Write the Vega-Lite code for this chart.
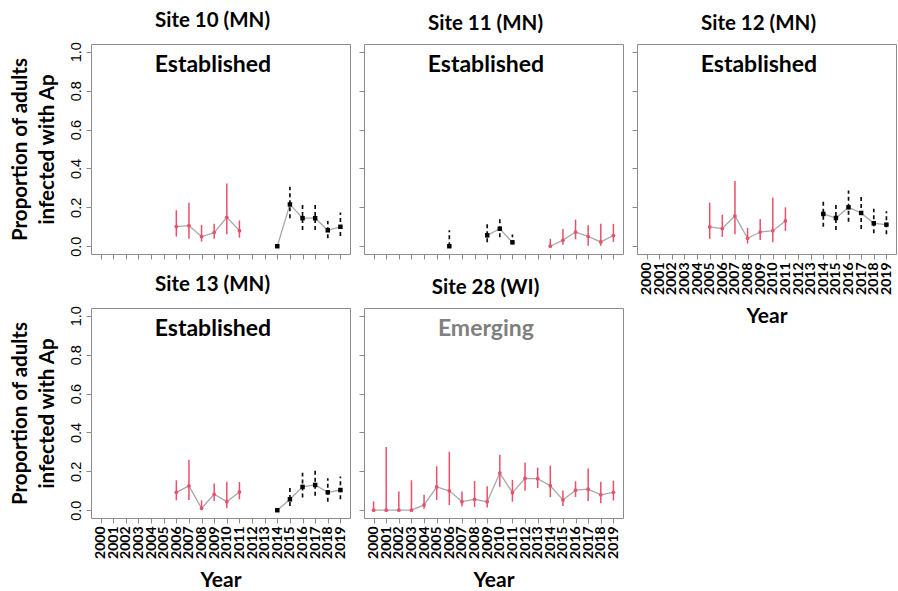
{
  "$schema": "https://vega.github.io/schema/vega-lite/v6.json",
  "background": "white",
  "padding": {"left": 9, "top": 10, "right": 0, "bottom": 0},
  "bounds": "flush",
  "columns": 3,
  "spacing": {"row": 54, "column": 14},
  "datasets": {
    "obs": [
      {"site": 10, "year": 2006, "p": 0.101, "lo": 0.05, "hi": 0.185, "grp": "r", "seg": "a"},
      {"site": 10, "year": 2007, "p": 0.106, "lo": 0.038, "hi": 0.224, "grp": "r", "seg": "a"},
      {"site": 10, "year": 2008, "p": 0.05, "lo": 0.024, "hi": 0.109, "grp": "r", "seg": "a"},
      {"site": 10, "year": 2009, "p": 0.07, "lo": 0.038, "hi": 0.115, "grp": "r", "seg": "a"},
      {"site": 10, "year": 2010, "p": 0.149, "lo": 0.062, "hi": 0.323, "grp": "r", "seg": "a"},
      {"site": 10, "year": 2011, "p": 0.08, "lo": 0.044, "hi": 0.132, "grp": "r", "seg": "a"},
      {"site": 10, "year": 2014, "p": 0.0, "lo": 0.0, "hi": 0.0, "grp": "b", "seg": "b"},
      {"site": 10, "year": 2015, "p": 0.215, "lo": 0.144, "hi": 0.306, "grp": "b", "seg": "b"},
      {"site": 10, "year": 2016, "p": 0.144, "lo": 0.084, "hi": 0.217, "grp": "b", "seg": "b"},
      {"site": 10, "year": 2017, "p": 0.144, "lo": 0.084, "hi": 0.217, "grp": "b", "seg": "b"},
      {"site": 10, "year": 2018, "p": 0.082, "lo": 0.041, "hi": 0.13, "grp": "b", "seg": "b"},
      {"site": 10, "year": 2019, "p": 0.1, "lo": 0.053, "hi": 0.174, "grp": "b", "seg": "b"},
      {"site": 11, "year": 2006, "p": 0.0, "lo": 0.0, "hi": 0.082, "grp": "b", "seg": "b1"},
      {"site": 11, "year": 2009, "p": 0.056, "lo": 0.02, "hi": 0.115, "grp": "b", "seg": "b2"},
      {"site": 11, "year": 2010, "p": 0.09, "lo": 0.046, "hi": 0.14, "grp": "b", "seg": "b2"},
      {"site": 11, "year": 2011, "p": 0.02, "lo": 0.01, "hi": 0.06, "grp": "b", "seg": "b2"},
      {"site": 11, "year": 2014, "p": 0.0, "lo": 0.0, "hi": 0.038, "grp": "r", "seg": "a"},
      {"site": 11, "year": 2015, "p": 0.031, "lo": 0.007, "hi": 0.089, "grp": "r", "seg": "a"},
      {"site": 11, "year": 2016, "p": 0.073, "lo": 0.036, "hi": 0.137, "grp": "r", "seg": "a"},
      {"site": 11, "year": 2017, "p": 0.05, "lo": 0.003, "hi": 0.108, "grp": "r", "seg": "a"},
      {"site": 11, "year": 2018, "p": 0.022, "lo": 0.002, "hi": 0.116, "grp": "r", "seg": "a"},
      {"site": 11, "year": 2019, "p": 0.055, "lo": 0.022, "hi": 0.115, "grp": "r", "seg": "a"},
      {"site": 12, "year": 2005, "p": 0.099, "lo": 0.038, "hi": 0.224, "grp": "r", "seg": "a"},
      {"site": 12, "year": 2006, "p": 0.091, "lo": 0.048, "hi": 0.162, "grp": "r", "seg": "a"},
      {"site": 12, "year": 2007, "p": 0.156, "lo": 0.062, "hi": 0.335, "grp": "r", "seg": "a"},
      {"site": 12, "year": 2008, "p": 0.041, "lo": 0.014, "hi": 0.094, "grp": "r", "seg": "a"},
      {"site": 12, "year": 2009, "p": 0.073, "lo": 0.032, "hi": 0.14, "grp": "r", "seg": "a"},
      {"site": 12, "year": 2010, "p": 0.08, "lo": 0.02, "hi": 0.25, "grp": "r", "seg": "a"},
      {"site": 12, "year": 2011, "p": 0.13, "lo": 0.079, "hi": 0.2, "grp": "r", "seg": "a"},
      {"site": 12, "year": 2014, "p": 0.166, "lo": 0.1, "hi": 0.234, "grp": "b", "seg": "b"},
      {"site": 12, "year": 2015, "p": 0.145, "lo": 0.084, "hi": 0.217, "grp": "b", "seg": "b"},
      {"site": 12, "year": 2016, "p": 0.2, "lo": 0.126, "hi": 0.287, "grp": "b", "seg": "b"},
      {"site": 12, "year": 2017, "p": 0.171, "lo": 0.089, "hi": 0.258, "grp": "b", "seg": "b"},
      {"site": 12, "year": 2018, "p": 0.118, "lo": 0.067, "hi": 0.193, "grp": "b", "seg": "b"},
      {"site": 12, "year": 2019, "p": 0.111, "lo": 0.062, "hi": 0.18, "grp": "b", "seg": "b"},
      {"site": 13, "year": 2006, "p": 0.092, "lo": 0.051, "hi": 0.154, "grp": "r", "seg": "a"},
      {"site": 13, "year": 2007, "p": 0.125, "lo": 0.053, "hi": 0.26, "grp": "r", "seg": "a"},
      {"site": 13, "year": 2008, "p": 0.01, "lo": 0.002, "hi": 0.051, "grp": "r", "seg": "a"},
      {"site": 13, "year": 2009, "p": 0.082, "lo": 0.048, "hi": 0.137, "grp": "r", "seg": "a"},
      {"site": 13, "year": 2010, "p": 0.044, "lo": 0.01, "hi": 0.147, "grp": "r", "seg": "a"},
      {"site": 13, "year": 2011, "p": 0.094, "lo": 0.056, "hi": 0.145, "grp": "r", "seg": "a"},
      {"site": 13, "year": 2014, "p": 0.0, "lo": 0.0, "hi": 0.0, "grp": "b", "seg": "b"},
      {"site": 13, "year": 2015, "p": 0.056, "lo": 0.022, "hi": 0.116, "grp": "b", "seg": "b"},
      {"site": 13, "year": 2016, "p": 0.12, "lo": 0.065, "hi": 0.193, "grp": "b", "seg": "b"},
      {"site": 13, "year": 2017, "p": 0.13, "lo": 0.075, "hi": 0.203, "grp": "b", "seg": "b"},
      {"site": 13, "year": 2018, "p": 0.092, "lo": 0.044, "hi": 0.164, "grp": "b", "seg": "b"},
      {"site": 13, "year": 2019, "p": 0.104, "lo": 0.056, "hi": 0.174, "grp": "b", "seg": "b"},
      {"site": 28, "year": 2000, "p": 0.0, "lo": 0.0, "hi": 0.046, "grp": "r", "seg": "a"},
      {"site": 28, "year": 2001, "p": 0.0, "lo": 0.0, "hi": 0.325, "grp": "r", "seg": "a"},
      {"site": 28, "year": 2002, "p": 0.0, "lo": 0.0, "hi": 0.096, "grp": "r", "seg": "a"},
      {"site": 28, "year": 2003, "p": 0.0, "lo": 0.0, "hi": 0.154, "grp": "r", "seg": "a"},
      {"site": 28, "year": 2004, "p": 0.027, "lo": 0.007, "hi": 0.08, "grp": "r", "seg": "a"},
      {"site": 28, "year": 2005, "p": 0.12, "lo": 0.053, "hi": 0.226, "grp": "r", "seg": "a"},
      {"site": 28, "year": 2006, "p": 0.1, "lo": 0.027, "hi": 0.301, "grp": "r", "seg": "a"},
      {"site": 28, "year": 2007, "p": 0.044, "lo": 0.019, "hi": 0.096, "grp": "r", "seg": "a"},
      {"site": 28, "year": 2008, "p": 0.056, "lo": 0.017, "hi": 0.15, "grp": "r", "seg": "a"},
      {"site": 28, "year": 2009, "p": 0.044, "lo": 0.014, "hi": 0.123, "grp": "r", "seg": "a"},
      {"site": 28, "year": 2010, "p": 0.191, "lo": 0.121, "hi": 0.285, "grp": "r", "seg": "a"},
      {"site": 28, "year": 2011, "p": 0.09, "lo": 0.044, "hi": 0.156, "grp": "r", "seg": "a"},
      {"site": 28, "year": 2012, "p": 0.164, "lo": 0.1, "hi": 0.246, "grp": "r", "seg": "a"},
      {"site": 28, "year": 2013, "p": 0.162, "lo": 0.114, "hi": 0.219, "grp": "r", "seg": "a"},
      {"site": 28, "year": 2014, "p": 0.126, "lo": 0.067, "hi": 0.229, "grp": "r", "seg": "a"},
      {"site": 28, "year": 2015, "p": 0.053, "lo": 0.022, "hi": 0.101, "grp": "r", "seg": "a"},
      {"site": 28, "year": 2016, "p": 0.103, "lo": 0.068, "hi": 0.149, "grp": "r", "seg": "a"},
      {"site": 28, "year": 2017, "p": 0.108, "lo": 0.048, "hi": 0.215, "grp": "r", "seg": "a"},
      {"site": 28, "year": 2018, "p": 0.079, "lo": 0.036, "hi": 0.147, "grp": "r", "seg": "a"},
      {"site": 28, "year": 2019, "p": 0.092, "lo": 0.05, "hi": 0.152, "grp": "r", "seg": "a"}
    ],
    "ann": [
      {"site": 10, "status": "Established"},
      {"site": 11, "status": "Established"},
      {"site": 12, "status": "Established"},
      {"site": 13, "status": "Established"},
      {"site": 28, "status": "Emerging"}
    ]
  },
  "concat": [
    {
      "title": "Site 10 (MN)",
      "width": 259, "height": 210,
      "data": {"name": "obs"},
      "transform": [{"filter": "datum.site == 10"}],
      "layer": [
        {
          "encoding": {
            "x": {"field": "year", "type": "quantitative", "scale": {"domain": [1999.24, 2019.76], "nice": false, "zero": false}, "axis": {"values": [2000,2001,2002,2003,2004,2005,2006,2007,2008,2009,2010,2011,2012,2013,2014,2015,2016,2017,2018,2019], "format": "d", "labels": false, "title": null}},
            "y": {"field": "p", "type": "quantitative", "scale": {"domain": [-0.04, 1.04], "nice": false, "zero": false}, "axis": {"values": [0, 0.2, 0.4, 0.6, 0.8, 1], "format": ".1f", "title": ["Proportion of adults", "infected with Ap"]}}
          },
          "layer": [
            {"mark": {"type": "line", "color": "#A8A8A8", "strokeWidth": 1.3}, "encoding": {"detail": {"field": "seg"}}},
            {"transform": [{"filter": "datum.grp == 'r'"}], "mark": {"type": "rule", "color": "#E8506B", "strokeWidth": 1.5}, "encoding": {"y": {"field": "lo", "type": "quantitative", "scale": {"domain": [-0.04, 1.04], "nice": false, "zero": false}, "axis": {"values": [0, 0.2, 0.4, 0.6, 0.8, 1], "format": ".1f", "title": ["Proportion of adults", "infected with Ap"]}}, "y2": {"field": "hi"}}},
            {"transform": [{"filter": "datum.grp == 'b'"}], "mark": {"type": "rule", "color": "#111111", "strokeWidth": 1.7, "strokeDash": [4, 3]}, "encoding": {"y": {"field": "lo", "type": "quantitative", "scale": {"domain": [-0.04, 1.04], "nice": false, "zero": false}, "axis": {"values": [0, 0.2, 0.4, 0.6, 0.8, 1], "format": ".1f", "title": ["Proportion of adults", "infected with Ap"]}}, "y2": {"field": "hi"}}},
            {"transform": [{"filter": "datum.grp == 'r'"}], "mark": {"type": "point", "shape": "circle", "filled": true, "color": "#E8506B", "size": 14, "opacity": 1}},
            {"transform": [{"filter": "datum.grp == 'b'"}], "mark": {"type": "square", "color": "#000000", "size": 20, "opacity": 1}}
          ]
        },
        {"transform": [{"aggregate": [{"op": "min", "field": "site", "as": "site"}]}, {"lookup": "site", "from": {"data": {"name": "ann"}, "key": "site", "fields": ["status"]}}],
         "mark": {"type": "text", "font": "Lato", "fontSize": 23, "fontWeight": "bold", "align": "center", "baseline": "middle", "color": "#000000"},
         "encoding": {
           "x": {"datum": 2008.9, "type": "quantitative", "scale": {"domain": [1999.24, 2019.76], "nice": false, "zero": false}, "axis": {"values": [2000,2001,2002,2003,2004,2005,2006,2007,2008,2009,2010,2011,2012,2013,2014,2015,2016,2017,2018,2019], "format": "d", "labels": false, "title": null}},
           "y": {"datum": 0.93, "type": "quantitative", "scale": {"domain": [-0.04, 1.04], "nice": false, "zero": false}, "axis": {"values": [0, 0.2, 0.4, 0.6, 0.8, 1], "format": ".1f", "title": ["Proportion of adults", "infected with Ap"]}},
           "text": {"field": "status", "type": "nominal"}
         }}
      ]
    },
    {
      "title": "Site 11 (MN)",
      "width": 259, "height": 210,
      "data": {"name": "obs"},
      "transform": [{"filter": "datum.site == 11"}],
      "layer": [
        {
          "encoding": {
            "x": {"field": "year", "type": "quantitative", "scale": {"domain": [1999.24, 2019.76], "nice": false, "zero": false}, "axis": {"values": [2000,2001,2002,2003,2004,2005,2006,2007,2008,2009,2010,2011,2012,2013,2014,2015,2016,2017,2018,2019], "format": "d", "labels": false, "title": null}},
            "y": {"field": "p", "type": "quantitative", "scale": {"domain": [-0.04, 1.04], "nice": false, "zero": false}, "axis": {"values": [0, 0.2, 0.4, 0.6, 0.8, 1], "format": ".1f", "labels": false, "title": null}}
          },
          "layer": [
            {"mark": {"type": "line", "color": "#A8A8A8", "strokeWidth": 1.3}, "encoding": {"detail": {"field": "seg"}}},
            {"transform": [{"filter": "datum.grp == 'r'"}], "mark": {"type": "rule", "color": "#E8506B", "strokeWidth": 1.5}, "encoding": {"y": {"field": "lo", "type": "quantitative", "scale": {"domain": [-0.04, 1.04], "nice": false, "zero": false}, "axis": {"values": [0, 0.2, 0.4, 0.6, 0.8, 1], "format": ".1f", "labels": false, "title": null}}, "y2": {"field": "hi"}}},
            {"transform": [{"filter": "datum.grp == 'b'"}], "mark": {"type": "rule", "color": "#111111", "strokeWidth": 1.7, "strokeDash": [4, 3]}, "encoding": {"y": {"field": "lo", "type": "quantitative", "scale": {"domain": [-0.04, 1.04], "nice": false, "zero": false}, "axis": {"values": [0, 0.2, 0.4, 0.6, 0.8, 1], "format": ".1f", "labels": false, "title": null}}, "y2": {"field": "hi"}}},
            {"transform": [{"filter": "datum.grp == 'r'"}], "mark": {"type": "point", "shape": "circle", "filled": true, "color": "#E8506B", "size": 14, "opacity": 1}},
            {"transform": [{"filter": "datum.grp == 'b'"}], "mark": {"type": "square", "color": "#000000", "size": 20, "opacity": 1}}
          ]
        },
        {"transform": [{"aggregate": [{"op": "min", "field": "site", "as": "site"}]}, {"lookup": "site", "from": {"data": {"name": "ann"}, "key": "site", "fields": ["status"]}}],
         "mark": {"type": "text", "font": "Lato", "fontSize": 23, "fontWeight": "bold", "align": "center", "baseline": "middle", "color": "#000000"},
         "encoding": {
           "x": {"datum": 2008.9, "type": "quantitative", "scale": {"domain": [1999.24, 2019.76], "nice": false, "zero": false}, "axis": {"values": [2000,2001,2002,2003,2004,2005,2006,2007,2008,2009,2010,2011,2012,2013,2014,2015,2016,2017,2018,2019], "format": "d", "labels": false, "title": null}},
           "y": {"datum": 0.93, "type": "quantitative", "scale": {"domain": [-0.04, 1.04], "nice": false, "zero": false}, "axis": {"values": [0, 0.2, 0.4, 0.6, 0.8, 1], "format": ".1f", "labels": false, "title": null}},
           "text": {"field": "status", "type": "nominal"}
         }}
      ]
    },
    {
      "title": "Site 12 (MN)",
      "width": 259, "height": 210,
      "data": {"name": "obs"},
      "transform": [{"filter": "datum.site == 12"}],
      "layer": [
        {
          "encoding": {
            "x": {"field": "year", "type": "quantitative", "scale": {"domain": [1999.24, 2019.76], "nice": false, "zero": false}, "axis": {"values": [2000,2001,2002,2003,2004,2005,2006,2007,2008,2009,2010,2011,2012,2013,2014,2015,2016,2017,2018,2019], "format": "d", "title": "Year"}},
            "y": {"field": "p", "type": "quantitative", "scale": {"domain": [-0.04, 1.04], "nice": false, "zero": false}, "axis": {"values": [0, 0.2, 0.4, 0.6, 0.8, 1], "format": ".1f", "labels": false, "title": null}}
          },
          "layer": [
            {"mark": {"type": "line", "color": "#A8A8A8", "strokeWidth": 1.3}, "encoding": {"detail": {"field": "seg"}}},
            {"transform": [{"filter": "datum.grp == 'r'"}], "mark": {"type": "rule", "color": "#E8506B", "strokeWidth": 1.5}, "encoding": {"y": {"field": "lo", "type": "quantitative", "scale": {"domain": [-0.04, 1.04], "nice": false, "zero": false}, "axis": {"values": [0, 0.2, 0.4, 0.6, 0.8, 1], "format": ".1f", "labels": false, "title": null}}, "y2": {"field": "hi"}}},
            {"transform": [{"filter": "datum.grp == 'b'"}], "mark": {"type": "rule", "color": "#111111", "strokeWidth": 1.7, "strokeDash": [4, 3]}, "encoding": {"y": {"field": "lo", "type": "quantitative", "scale": {"domain": [-0.04, 1.04], "nice": false, "zero": false}, "axis": {"values": [0, 0.2, 0.4, 0.6, 0.8, 1], "format": ".1f", "labels": false, "title": null}}, "y2": {"field": "hi"}}},
            {"transform": [{"filter": "datum.grp == 'r'"}], "mark": {"type": "point", "shape": "circle", "filled": true, "color": "#E8506B", "size": 14, "opacity": 1}},
            {"transform": [{"filter": "datum.grp == 'b'"}], "mark": {"type": "square", "color": "#000000", "size": 20, "opacity": 1}}
          ]
        },
        {"transform": [{"aggregate": [{"op": "min", "field": "site", "as": "site"}]}, {"lookup": "site", "from": {"data": {"name": "ann"}, "key": "site", "fields": ["status"]}}],
         "mark": {"type": "text", "font": "Lato", "fontSize": 23, "fontWeight": "bold", "align": "center", "baseline": "middle", "color": "#000000"},
         "encoding": {
           "x": {"datum": 2008.9, "type": "quantitative", "scale": {"domain": [1999.24, 2019.76], "nice": false, "zero": false}, "axis": {"values": [2000,2001,2002,2003,2004,2005,2006,2007,2008,2009,2010,2011,2012,2013,2014,2015,2016,2017,2018,2019], "format": "d", "title": "Year"}},
           "y": {"datum": 0.93, "type": "quantitative", "scale": {"domain": [-0.04, 1.04], "nice": false, "zero": false}, "axis": {"values": [0, 0.2, 0.4, 0.6, 0.8, 1], "format": ".1f", "labels": false, "title": null}},
           "text": {"field": "status", "type": "nominal"}
         }}
      ]
    },
    {
      "title": "Site 13 (MN)",
      "width": 259, "height": 210,
      "data": {"name": "obs"},
      "transform": [{"filter": "datum.site == 13"}],
      "layer": [
        {
          "encoding": {
            "x": {"field": "year", "type": "quantitative", "scale": {"domain": [1999.24, 2019.76], "nice": false, "zero": false}, "axis": {"values": [2000,2001,2002,2003,2004,2005,2006,2007,2008,2009,2010,2011,2012,2013,2014,2015,2016,2017,2018,2019], "format": "d", "title": "Year"}},
            "y": {"field": "p", "type": "quantitative", "scale": {"domain": [-0.04, 1.04], "nice": false, "zero": false}, "axis": {"values": [0, 0.2, 0.4, 0.6, 0.8, 1], "format": ".1f", "title": ["Proportion of adults", "infected with Ap"]}}
          },
          "layer": [
            {"mark": {"type": "line", "color": "#A8A8A8", "strokeWidth": 1.3}, "encoding": {"detail": {"field": "seg"}}},
            {"transform": [{"filter": "datum.grp == 'r'"}], "mark": {"type": "rule", "color": "#E8506B", "strokeWidth": 1.5}, "encoding": {"y": {"field": "lo", "type": "quantitative", "scale": {"domain": [-0.04, 1.04], "nice": false, "zero": false}, "axis": {"values": [0, 0.2, 0.4, 0.6, 0.8, 1], "format": ".1f", "title": ["Proportion of adults", "infected with Ap"]}}, "y2": {"field": "hi"}}},
            {"transform": [{"filter": "datum.grp == 'b'"}], "mark": {"type": "rule", "color": "#111111", "strokeWidth": 1.7, "strokeDash": [4, 3]}, "encoding": {"y": {"field": "lo", "type": "quantitative", "scale": {"domain": [-0.04, 1.04], "nice": false, "zero": false}, "axis": {"values": [0, 0.2, 0.4, 0.6, 0.8, 1], "format": ".1f", "title": ["Proportion of adults", "infected with Ap"]}}, "y2": {"field": "hi"}}},
            {"transform": [{"filter": "datum.grp == 'r'"}], "mark": {"type": "point", "shape": "circle", "filled": true, "color": "#E8506B", "size": 14, "opacity": 1}},
            {"transform": [{"filter": "datum.grp == 'b'"}], "mark": {"type": "square", "color": "#000000", "size": 20, "opacity": 1}}
          ]
        },
        {"transform": [{"aggregate": [{"op": "min", "field": "site", "as": "site"}]}, {"lookup": "site", "from": {"data": {"name": "ann"}, "key": "site", "fields": ["status"]}}],
         "mark": {"type": "text", "font": "Lato", "fontSize": 23, "fontWeight": "bold", "align": "center", "baseline": "middle", "color": "#000000"},
         "encoding": {
           "x": {"datum": 2008.9, "type": "quantitative", "scale": {"domain": [1999.24, 2019.76], "nice": false, "zero": false}, "axis": {"values": [2000,2001,2002,2003,2004,2005,2006,2007,2008,2009,2010,2011,2012,2013,2014,2015,2016,2017,2018,2019], "format": "d", "title": "Year"}},
           "y": {"datum": 0.93, "type": "quantitative", "scale": {"domain": [-0.04, 1.04], "nice": false, "zero": false}, "axis": {"values": [0, 0.2, 0.4, 0.6, 0.8, 1], "format": ".1f", "title": ["Proportion of adults", "infected with Ap"]}},
           "text": {"field": "status", "type": "nominal"}
         }}
      ]
    },
    {
      "title": "Site 28 (WI)",
      "width": 259, "height": 210,
      "data": {"name": "obs"},
      "transform": [{"filter": "datum.site == 28"}],
      "layer": [
        {
          "encoding": {
            "x": {"field": "year", "type": "quantitative", "scale": {"domain": [1999.24, 2019.76], "nice": false, "zero": false}, "axis": {"values": [2000,2001,2002,2003,2004,2005,2006,2007,2008,2009,2010,2011,2012,2013,2014,2015,2016,2017,2018,2019], "format": "d", "title": "Year"}},
            "y": {"field": "p", "type": "quantitative", "scale": {"domain": [-0.04, 1.04], "nice": false, "zero": false}, "axis": {"values": [0, 0.2, 0.4, 0.6, 0.8, 1], "format": ".1f", "labels": false, "title": null}}
          },
          "layer": [
            {"mark": {"type": "line", "color": "#A8A8A8", "strokeWidth": 1.3}, "encoding": {"detail": {"field": "seg"}}},
            {"transform": [{"filter": "datum.grp == 'r'"}], "mark": {"type": "rule", "color": "#E8506B", "strokeWidth": 1.5}, "encoding": {"y": {"field": "lo", "type": "quantitative", "scale": {"domain": [-0.04, 1.04], "nice": false, "zero": false}, "axis": {"values": [0, 0.2, 0.4, 0.6, 0.8, 1], "format": ".1f", "labels": false, "title": null}}, "y2": {"field": "hi"}}},
            {"transform": [{"filter": "datum.grp == 'r'"}], "mark": {"type": "point", "shape": "circle", "filled": true, "color": "#E8506B", "size": 14, "opacity": 1}}
          ]
        },
        {"transform": [{"aggregate": [{"op": "min", "field": "site", "as": "site"}]}, {"lookup": "site", "from": {"data": {"name": "ann"}, "key": "site", "fields": ["status"]}}],
         "mark": {"type": "text", "font": "Lato", "fontSize": 23, "fontWeight": "bold", "align": "center", "baseline": "middle", "color": "#7F7F7F"},
         "encoding": {
           "x": {"datum": 2008.9, "type": "quantitative", "scale": {"domain": [1999.24, 2019.76], "nice": false, "zero": false}, "axis": {"values": [2000,2001,2002,2003,2004,2005,2006,2007,2008,2009,2010,2011,2012,2013,2014,2015,2016,2017,2018,2019], "format": "d", "title": "Year"}},
           "y": {"datum": 0.93, "type": "quantitative", "scale": {"domain": [-0.04, 1.04], "nice": false, "zero": false}, "axis": {"values": [0, 0.2, 0.4, 0.6, 0.8, 1], "format": ".1f", "labels": false, "title": null}},
           "text": {"field": "status", "type": "nominal"}
         }}
      ]
    }
  ],
  "config": {
    "view": {"stroke": "#8C8C8C", "strokeWidth": 1},
    "title": {"font": "Lato", "fontSize": 20.5, "fontWeight": "bold", "color": "#000000", "offset": 10, "anchor": "middle", "dx": -8},
    "axis": {"domain": false, "grid": false, "tickColor": "#8C8C8C", "tickSize": 5, "labelColor": "#000000", "titleColor": "#000000", "labelOverlap": false, "labelFlush": false},
    "axisX": {"labelAngle": -90, "labelFont": "Lato", "labelFontWeight": "bold", "labelFontSize": 14, "labelPadding": 3, "titleFont": "Lato", "titleFontSize": 21, "titleFontWeight": "bold", "titlePadding": 11},
    "axisY": {"labelAngle": -90, "labelAlign": "center", "labelBaseline": "bottom", "labelFont": "Liberation Sans", "labelFontSize": 14.5, "labelPadding": 3, "titleFont": "Lato", "titleFontSize": 20.5, "titleFontWeight": "bold", "titleLineHeight": 27, "titlePadding": 11}
  }
}
